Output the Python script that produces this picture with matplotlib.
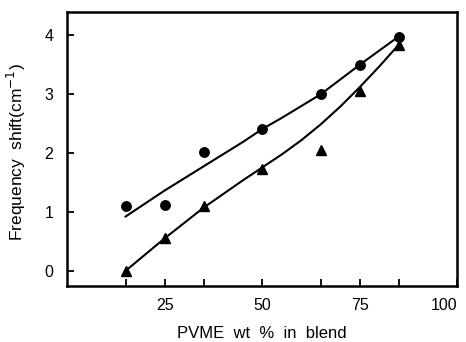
import matplotlib.pyplot as plt

plt.rcParams['font.family'] = ['Liberation Sans', 'DejaVu Sans']

# measured points
pvme = [15, 25, 35, 50, 65, 75, 85]
shift_circle = [1.10, 1.12, 2.02, 2.41, 2.99, 3.48, 3.97]
shift_triangle = [0.0, 0.56, 1.10, 1.73, 2.05, 3.05, 3.83]

# hand-drawn fitted curves
curve_x = [15, 25, 35, 45, 50, 55, 60, 65, 70, 75, 80, 85]
curve_y_circle = [0.92, 1.36, 1.77, 2.18, 2.40, 2.59, 2.79, 2.99, 3.24, 3.49, 3.73, 3.97]
curve_y_triangle = [0.0, 0.55, 1.07, 1.53, 1.75, 1.97, 2.21, 2.48, 2.78, 3.11, 3.46, 3.83]

xticks = [15, 25, 35, 50, 65, 75, 85, 100]
xticklabels = ['', '25', '', '50', '', '75', '', '100']
yticks = [0, 1, 2, 3, 4]

fig = plt.figure(figsize=(4.66, 3.42), dpi=100)
ax = fig.add_axes([0.144, 0.164, 0.837, 0.801])

ax.plot(curve_x, curve_y_circle, color='black', lw=1.5)
ax.plot(curve_x, curve_y_triangle, color='black', lw=1.5)
ax.plot(pvme, shift_circle, 'o', color='black', ms=6.8)
ax.plot(pvme, shift_triangle, '^', color='black', ms=7.5)

ax.set_xlim(0, 100)
ax.set_ylim(-0.256, 4.386)
ax.set_xticks(xticks)
ax.set_xticklabels(xticklabels)
ax.get_xticklabels()[-1].set_horizontalalignment('right')
ax.set_yticks(yticks)
ax.tick_params(direction='in', length=5, width=1.3, labelsize=11.5)
ax.tick_params(axis='x', pad=8.5)
ax.tick_params(axis='y', pad=10)
for s in ax.spines.values():
    s.set_linewidth(1.8)

ax.set_xlabel('PVME  wt  %  in  blend', fontsize=12)
ax.set_ylabel('Frequency  shift(cm$^{-1}$)', fontsize=12.5)
ax.xaxis.set_label_coords(0.5, -0.148)
ax.yaxis.set_label_coords(-0.10, 0.49)

fig.savefig('out.png', dpi=100)
